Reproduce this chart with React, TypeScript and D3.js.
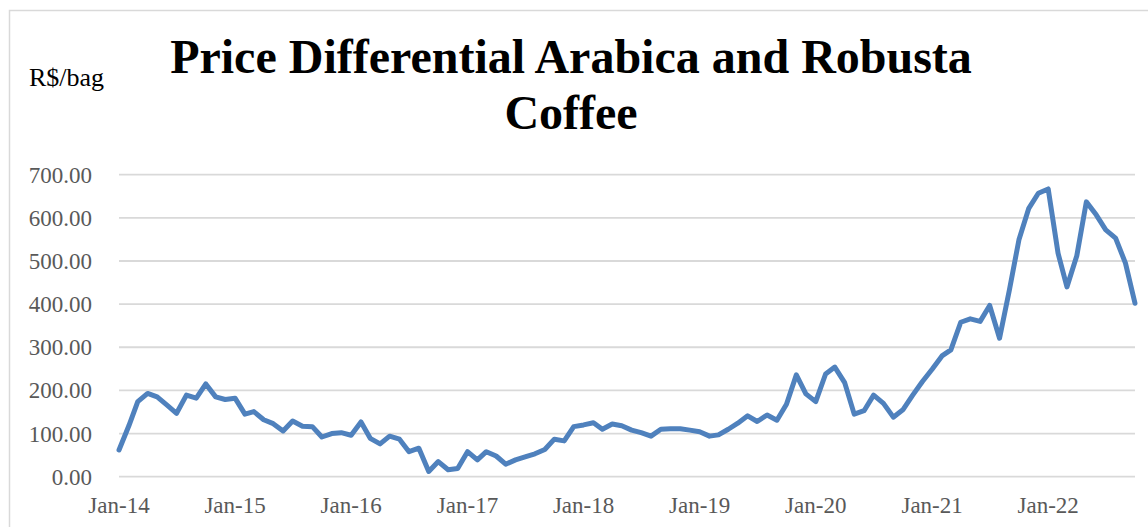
import { useEffect, useRef } from 'react';
import * as d3 from 'd3';

// Monthly price differential, Jan-14 .. Oct-22 (R$/bag)
const values = [
  62, 118, 174, 193, 185, 166, 147, 189, 182, 215, 185, 179,
  182, 145, 151, 132, 123, 106, 129, 117, 116, 92, 100, 102,
  96, 127, 89, 76, 94, 87, 58, 66, 12, 35, 16, 19,
  58, 39, 58, 48, 29, 39, 46, 53, 63, 87, 83, 116,
  120, 125, 110, 122, 118, 108, 102, 94, 110, 111, 111, 108,
  104, 94, 97, 110, 124, 141, 128, 143, 131, 168, 236, 192,
  174, 238, 254, 218, 145, 153, 189, 170, 138, 155, 189, 220,
  249, 280, 294, 358, 366, 360, 397, 321, 433, 549, 622, 657,
  667, 518, 440, 512, 637, 607, 572, 553, 495, 402,
];
const firstMonth = new Date(2014, 0, 1);
const xTickLabels = ['Jan-14', 'Jan-15', 'Jan-16', 'Jan-17', 'Jan-18', 'Jan-19', 'Jan-20', 'Jan-21', 'Jan-22'];
const yTicks = [0, 100, 200, 300, 400, 500, 600, 700];

const titleLines = ['Price Differential Arabica and Robusta', 'Coffee'];
const unitLabel = 'R$/bag';

export default function App() {
  const svgRef = useRef<SVGSVGElement>(null);

  useEffect(() => {
    if (!svgRef.current) return;

    const width = 1148;
    const height = 527;
    const plot = { left: 119, right: 1135, top: 174.7, bottom: 476.7 };
    const serif = '"Liberation Serif", "Times New Roman", serif';

    const svg = d3.select(svgRef.current);
    svg.selectAll('*').remove();
    svg.attr('width', width).attr('height', height);

    const dates = values.map((_, i) => d3.timeMonth.offset(firstMonth, i));

    const x = d3
      .scaleTime()
      .domain([dates[0], dates[dates.length - 1]])
      .range([plot.left, plot.right]);

    const y = d3.scaleLinear().domain([0, 700]).range([plot.bottom, plot.top]);

    // chart frame
    svg.append('rect')
      .attr('x', 9.5)
      .attr('y', 10.5)
      .attr('width', width + 20)
      .attr('height', height + 20)
      .attr('fill', '#ffffff')
      .attr('stroke', '#d9d9d9')
      .attr('stroke-width', 1.5);

    // gridlines
    svg.append('g')
      .selectAll('line')
      .data(yTicks)
      .enter()
      .append('line')
      .attr('x1', plot.left)
      .attr('x2', plot.right)
      .attr('y1', d => y(d))
      .attr('y2', d => y(d))
      .attr('stroke', '#d9d9d9')
      .attr('stroke-width', 1.8);

    // y labels
    svg.append('g')
      .selectAll('text')
      .data(yTicks)
      .enter()
      .append('text')
      .attr('x', 92)
      .attr('y', d => y(d))
      .attr('dy', '0.35em')
      .attr('text-anchor', 'end')
      .attr('font-family', serif)
      .attr('font-size', 23)
      .attr('fill', '#595959')
      .text(d => d.toFixed(2));

    // x labels
    svg.append('g')
      .selectAll('text')
      .data(xTickLabels)
      .enter()
      .append('text')
      .attr('x', (_, i) => x(new Date(2014 + i, 0, 1)))
      .attr('y', 513)
      .attr('text-anchor', 'middle')
      .attr('font-family', serif)
      .attr('font-size', 23)
      .attr('fill', '#595959')
      .text(d => d);

    // series line
    const line = d3
      .line<number>()
      .x((_, i) => x(dates[i]))
      .y(d => y(d));

    svg.append('path')
      .datum(values)
      .attr('d', line)
      .attr('fill', 'none')
      .attr('stroke', '#4f81bd')
      .attr('stroke-width', 5)
      .attr('stroke-linejoin', 'round')
      .attr('stroke-linecap', 'round');

    // title
    svg.append('g')
      .selectAll('text')
      .data(titleLines)
      .enter()
      .append('text')
      .attr('x', 571)
      .attr('y', (_, i) => 73 + i * 56)
      .attr('text-anchor', 'middle')
      .attr('font-family', serif)
      .attr('font-weight', 'bold')
      .attr('font-size', 48)
      .attr('fill', '#000000')
      .text(d => d);

    svg.append('text')
      .attr('x', 29)
      .attr('y', 86)
      .attr('font-family', serif)
      .attr('font-size', 26)
      .attr('fill', '#000000')
      .text(unitLabel);
  }, []);

  return <svg ref={svgRef} style={{ position: 'absolute', left: 0, top: 0, display: 'block' }} />;
}
